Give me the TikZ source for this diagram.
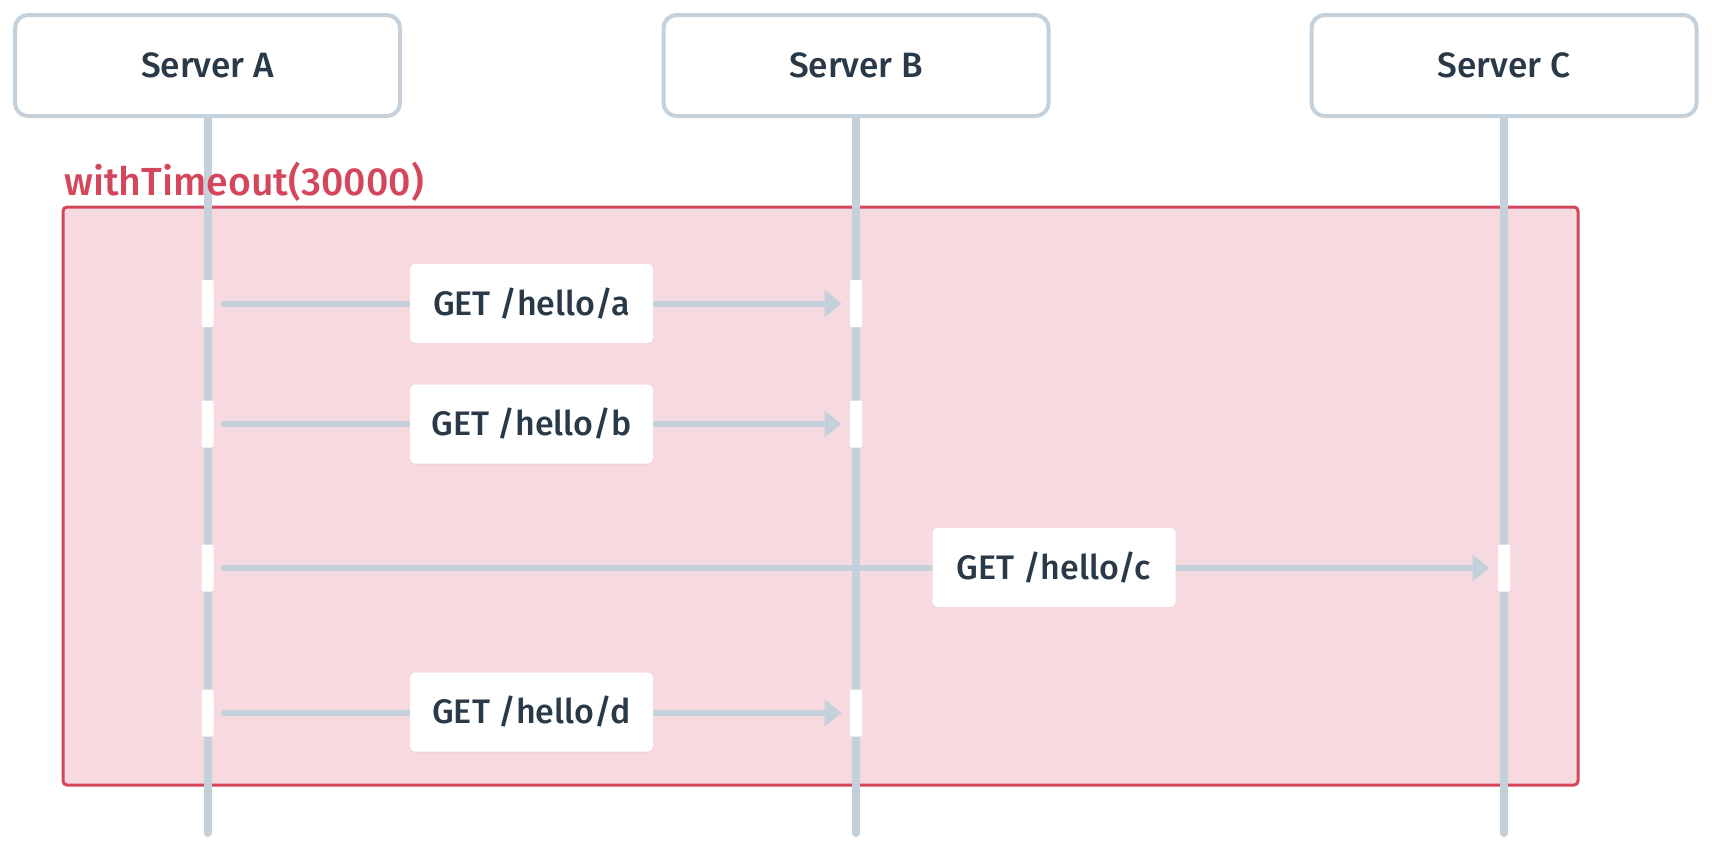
\documentclass[tikz,border=0pt]{standalone}
\usepackage{fontspec}
\setmainfont{Fira Sans Medium}
\usetikzlibrary{arrows.meta,calc,shadows}
\definecolor{linec}{HTML}{C4D1DB}
\definecolor{textc}{HTML}{2A3947}
\definecolor{redc}{HTML}{D4465B}
\definecolor{pinkc}{HTML}{F6DADF}
\pgfdeclarelayer{bg}
\pgfsetlayers{bg,main}
\tikzset{
  server/.style={draw=linec, line width=2pt, fill=white, rounded corners=6.5pt,
    minimum width=192.5pt, minimum height=50.5pt, inner sep=0pt,
    text=textc, font=\fontsize{17.6}{20}\selectfont},
  life/.style={draw=linec, line width=4pt, line cap=round},
  actbox/.style={fill=white, minimum width=6pt, minimum height=23.5pt, inner sep=0pt, rounded corners=1pt},
  msg/.style={draw=linec, line width=3pt, line cap=round, shorten <=5pt, shorten >=4pt,
    -{Triangle[length=8.5pt, width=13pt]}},
  lbl/.style={fill=white, rounded corners=2.5pt, minimum width=121.5pt, minimum height=39.5pt,
    inner sep=0pt, text=textc, font=\fontsize{17}{20}\selectfont,
    drop shadow={shadow xshift=0pt, shadow yshift=-0.8pt, opacity=0.05}},
  frame/.style={draw=redc, fill=pinkc, line width=1.5pt, rounded corners=2pt,
    minimum width=757.5pt, minimum height=289pt, inner sep=0pt},
  framelbl/.style={text=redc, inner sep=0pt, anchor=base west, font=\fontsize{19.6}{24}\selectfont}
}
\begin{document}
\begin{tikzpicture}[x=0.5pt, y=-0.5pt]
\useasboundingbox (0,0) rectangle (1712,848);
% frame
\begin{pgfonlayer}{bg}
\node[frame] (F) at (820.5,496) {};
\end{pgfonlayer}
\node[framelbl] (FL) at (64,195) {withTimeout(30000)};
% servers
\node[server] (A) at (207.5,65.5) {Server A};
\node[server] (B) at (856,65.5) {Server B};
\node[server] (C) at (1504,65.5) {Server C};
\coordinate (Aend) at (207.5,833);
\coordinate (Bend) at (856,833);
\coordinate (Cend) at (1504,833);
\begin{pgfonlayer}{bg}
\draw[life] (A.south) -- (Aend);
\draw[life] (B.south) -- (Bend);
\draw[life] (C.south) -- (Cend);
\end{pgfonlayer}
% activations
\node[actbox] (A1) at (207.5,303.5) {};
\node[actbox] (B1) at (856,303.5) {};
\node[actbox] (A2) at (207.5,424) {};
\node[actbox] (B2) at (856,424) {};
\node[actbox] (A3) at (207.5,568) {};
\node[actbox] (C3) at (1504,568) {};
\node[actbox] (A4) at (207.5,713) {};
\node[actbox] (B4) at (856,713) {};
% messages
\draw[msg] (A1.east) -- (B1.west);
\draw[msg] (A2.east) -- (B2.west);
\draw[msg] (A3.east) -- (C3.west);
\draw[msg] (A4.east) -- (B4.west);
\node[lbl] (L1) at (531.5,303.5) {GET /hello/a};
\node[lbl] (L2) at (531.5,424) {GET /hello/b};
\node[lbl] (L3) at (1054,567.5) {GET /hello/c};
\node[lbl] (L4) at (531.5,712) {GET /hello/d};
\end{tikzpicture}
\end{document}
